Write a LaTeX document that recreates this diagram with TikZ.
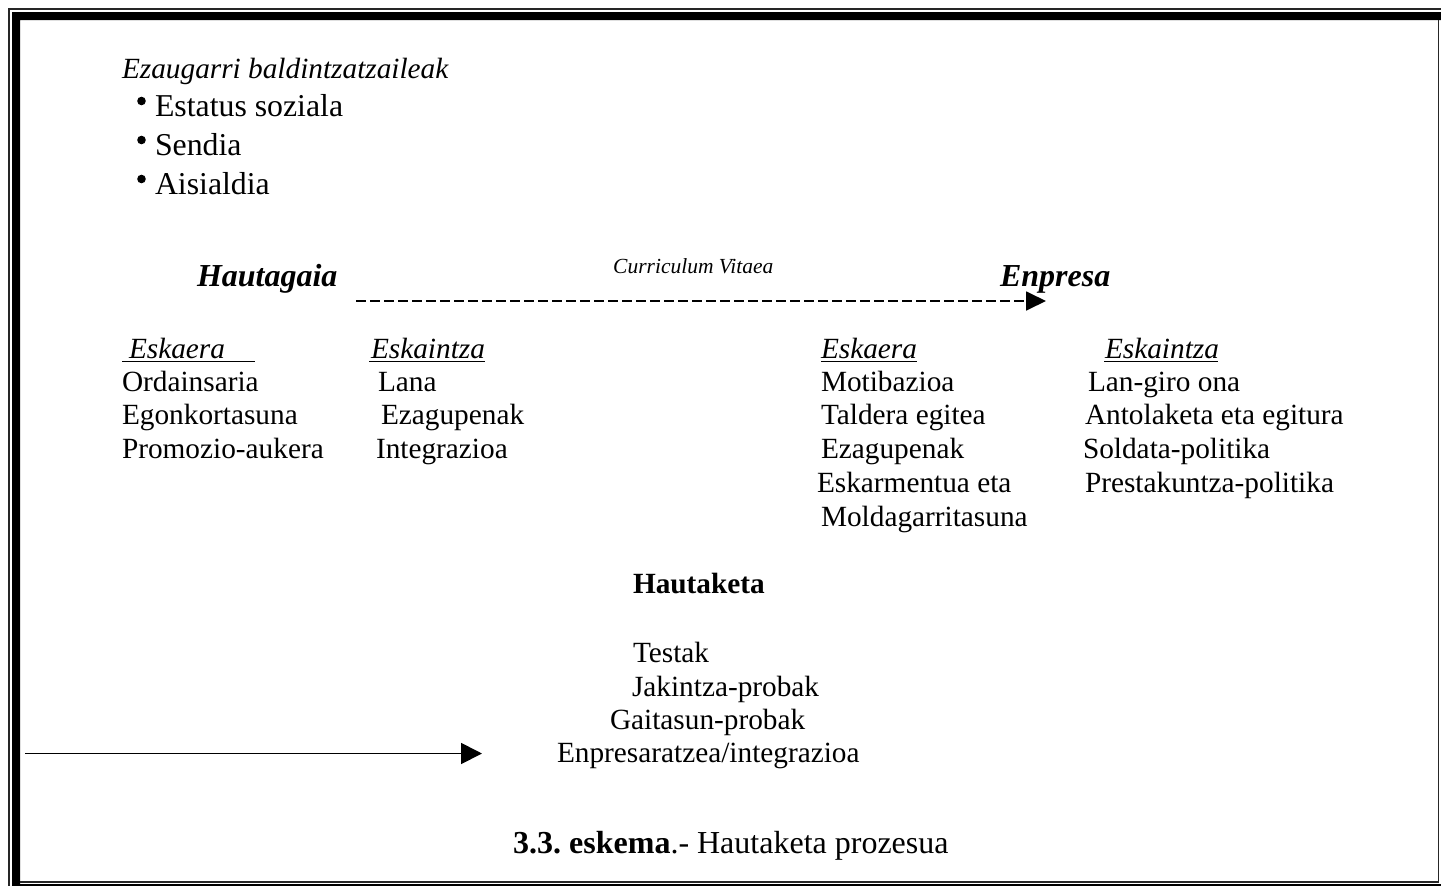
\documentclass[tikz,border=0pt]{standalone}
\usepackage{fontspec}
\setmainfont{Liberation Serif}
\usetikzlibrary{arrows.meta}
\frenchspacing

\tikzset{
  txt/.style={anchor=base west, inner sep=0pt, outer sep=0pt, font=\fontsize{29.3}{33}\selectfont},
  bigtxt/.style={anchor=base west, inner sep=0pt, outer sep=0pt, font=\fontsize{31.8}{36}\selectfont},
  head/.style={txt, font=\fontsize{29.3}{33}\selectfont\itshape},
  party/.style={anchor=base west, inner sep=0pt, outer sep=0pt, font=\fontsize{32}{36}\selectfont\bfseries\itshape},
  uline/.style={line width=1.5pt},
  thinframe/.style={line width=1.3pt, draw=black!85},
  flow/.style={line width=1.8pt, -{Triangle[length=20pt, width=20pt]}},
}

\begin{document}
\begin{tikzpicture}[x=1pt, y=-1pt]
\useasboundingbox (0,0) rectangle (1441,886);
\clip (0,0) rectangle (1441,886);

% page frame: thin/thick double rule
\draw[thinframe] (9,886) -- (9,9) -- (1441,9);
\fill[black] (12,886) -- (12,12) -- (1441,12) -- (1441,20) -- (20,20) -- (20,886) -- cycle;
\draw[thinframe] (20,882) -- (1438.8,882) -- (1438.8,20);
\fill[black] (20,884) rectangle (1441,886);

% conditioning features
\node[txt, font=\fontsize{29.3}{33}\selectfont\itshape] (feat) at (122,78) {Ezaugarri baldintzatzaileak};
\node[bigtxt] (f1) at (155,116) {Estatus soziala};
\node[bigtxt] (f2) at (155,155) {Sendia};
\node[bigtxt] (f3) at (155,194) {Aisialdia};
\foreach \n in {f1,f2,f3}
  \fill ([xshift=-13.5pt, yshift=15pt]\n.base west) circle (4.3pt);

% the two parties
\node[party] (cand) at (197,286) {Hautagaia};
\node[party] (firm) at (1000,286) {Enpresa};
\node[anchor=base west, inner sep=0pt, font=\fontsize{21.5}{24}\selectfont\itshape] (cv) at (613,273) {Curriculum Vitaea};
\coordinate (cvstart) at (356,301);
\coordinate (cvend) at (1046,301);
\draw[flow, dash pattern=on 9.5pt off 4.5pt, -{Triangle[length=20pt, width=19pt]}] (cvstart) -- (cvend);

% candidate: demand / offer
\node[head] (ce) at (129,358) {Eskaera};
\draw[uline] (122,361.5) -- (255,361.5);
\node[txt] (ce1) at (122,391) {Ordainsaria};
\node[txt] (ce2) at (122,424.5) {Egonkortasuna};
\node[txt] (ce3) at (122,458) {Promozio-aukera};

\node[head] (co) at (371,358) {Eskaintza};
\draw[uline] (369,361.5) -- (485,361.5);
\node[txt] (co1) at (378,391) {Lana};
\node[txt] (co2) at (381,424.5) {Ezagupenak};
\node[txt] (co3) at (376,458) {Integrazioa};

% company: demand / offer
\node[head] (fe) at (821,358) {Eskaera};
\draw[uline] (821,361.5) -- (917,361.5);
\node[txt] (fe1) at (821,391) {Motibazioa};
\node[txt] (fe2) at (821,424.5) {Taldera egitea};
\node[txt] (fe3) at (821,458) {Ezagupenak};
\node[txt] (fe4) at (817,492) {Eskarmentua eta};
\node[txt] (fe5) at (821,526) {Moldagarritasuna};

\node[head] (fo) at (1105,358) {Eskaintza};
\draw[uline] (1104,361.5) -- (1218,361.5);
\node[txt] (fo1) at (1088,391) {Lan-giro ona};
\node[txt] (fo2) at (1085,424.5) {Antolaketa eta egitura};
\node[txt] (fo3) at (1083,458) {Soldata-politika};
\node[txt] (fo4) at (1085,492) {Prestakuntza-politika};

% selection
\node[txt, font=\fontsize{29.3}{33}\selectfont\bfseries] (sel) at (633,593) {Hautaketa};
\node[txt] (s1) at (633,662) {Testak};
\node[txt] (s2) at (632,696) {Jakintza-probak};
\node[txt] (s3) at (610,729) {Gaitasun-probak};
\node[txt] (s4) at (557,762) {Enpresaratzea/integrazioa};
\coordinate (inflow) at (25,753.5);
\coordinate (inhead) at (482,753.5);
\draw[flow, -{Triangle[length=21pt, width=21pt]}] (inflow) -- (inhead);

% caption
\node[anchor=base west, inner sep=0pt, font=\fontsize{32}{36}\selectfont] (cap) at (513,853) {\textbf{3.3. eskema}.- Hautaketa prozesua};
\end{tikzpicture}
\end{document}
